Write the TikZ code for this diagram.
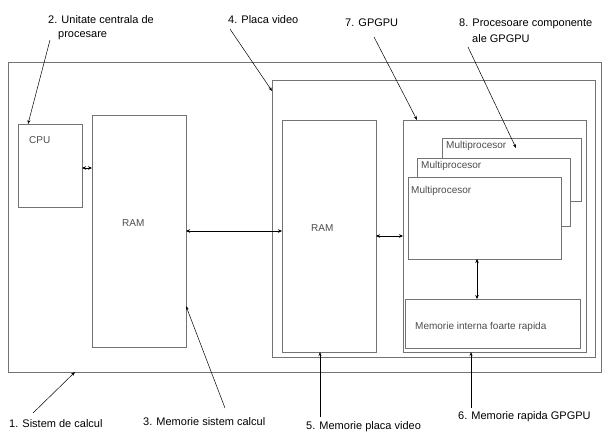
\documentclass[tikz,border=0pt]{standalone}
\usepackage{fontspec}
\setmainfont{Liberation Sans}
\usetikzlibrary{arrows.meta}
\begin{document}
\begin{tikzpicture}[x=1pt,y=-1pt,
  box/.style={draw=black!55,line width=0.8pt,fill=white,anchor=north west,inner sep=0pt,outer sep=0pt},
  intext/.style={text=black!70,font=\fontsize{10}{12}\selectfont,inner sep=0pt,anchor=base west},
  lbl/.style={text=black,font=\fontsize{11}{13}\selectfont,inner sep=0pt,anchor=base west},
  conn/.style={line width=0.5pt,{Stealth[length=4pt,width=3.5pt]}-{Stealth[length=4pt,width=3.5pt]}},
  ann/.style={line width=0.5pt,-{Stealth[length=4pt,width=3pt]}}]
\useasboundingbox (0,0) rectangle (604,432);
\fill[white] (0,0) rectangle (604,432);
% boxes
\node[box,minimum width=593pt,minimum height=310pt] (sys) at (8,62) {};
\node[box,minimum width=64pt,minimum height=83pt] (cpu) at (18,124) {};
\node[box,minimum width=94pt,minimum height=232pt] (ram1) at (92,115) {};
\node[box,minimum width=323pt,minimum height=277pt] (pv) at (272,80) {};
\node[box,minimum width=94pt,minimum height=232pt] (ram2) at (282,120) {};
\node[box,minimum width=183pt,minimum height=232pt] (gpgpu) at (403,120) {};
\node[box,minimum width=139pt,minimum height=63pt] (mp3) at (442,138) {};
\node[box,minimum width=153pt,minimum height=68pt] (mp2) at (417,158) {};
\node[box,minimum width=153pt,minimum height=82pt] (mp1) at (408,177) {};
\node[box,minimum width=175pt,minimum height=49pt] (mem) at (405,299) {};
% inner texts
\node[intext] (tcpu) at (29,143) {CPU};
\node[intext] (tram1) at (122,226) {RAM};
\node[intext] (tram2) at (311,231) {RAM};
\node[intext] (tmp3) at (446,148) {Multiprocesor};
\node[intext] (tmp2) at (421,168) {Multiprocesor};
\node[intext] (tmp1) at (411,193) {Multiprocesor};
\node[intext] (tmem) at (415,329) {Memorie interna foarte rapida};
% connectors between boxes
\draw[conn] (cpu.east |- 0,168) -- (ram1.west |- 0,168);
\draw[conn] (ram1.east) -- (ram2.west |- ram1.east);
\draw[conn] (ram2.east) -- (gpgpu.west |- ram2.east);
\draw[conn] (mp1.south -| 477,0) -- (mem.north -| 477,0);
% annotation labels
\node[lbl] (l2a) at (48,23) {2. Unitate centrala de};
\node[lbl] (l2b) at (58,37) {procesare};
\node[lbl] (l4) at (228,23) {4. Placa video};
\node[lbl] (l7) at (345,26) {7. GPGPU};
\node[lbl] (l8a) at (459,26) {8. Procesoare componente};
\node[lbl] (l8b) at (472,42) {ale GPGPU};
\node[lbl] (l1) at (9,427) {1. Sistem de calcul};
\node[lbl] (l3) at (143,425) {3. Memorie sistem calcul};
\node[lbl] (l5) at (306,429) {5. Memorie placa video};
\node[lbl] (l6) at (458,419) {6. Memorie rapida GPGPU};
% annotation arrows
\coordinate (s2) at (50,40);
\coordinate (s4) at (230,29);
\coordinate (s7) at (374,37);
\coordinate (s8) at (468,47);
\coordinate (s1) at (33,413);
\coordinate (s3) at (225,408);
\coordinate (s5) at (320,417);
\coordinate (s6) at (471,408);
\draw[ann] (s2) -- (cpu.north west -| 28,0);
\draw[ann] (s4) -- (pv.west |- 0,91);
\draw[ann] (s7) -- (gpgpu.north -| 417,0);
\draw[ann] (s8) -- (516,148);
\draw[ann] (s1) -- (sys.south -| 75,0);
\draw[ann] (s3) -- (ram1.east |- 0,306);
\draw[ann] (s5) -- (ram2.south -| s5);
\draw[ann] (s6) -- (gpgpu.south -| s6);
\end{tikzpicture}
\end{document}
